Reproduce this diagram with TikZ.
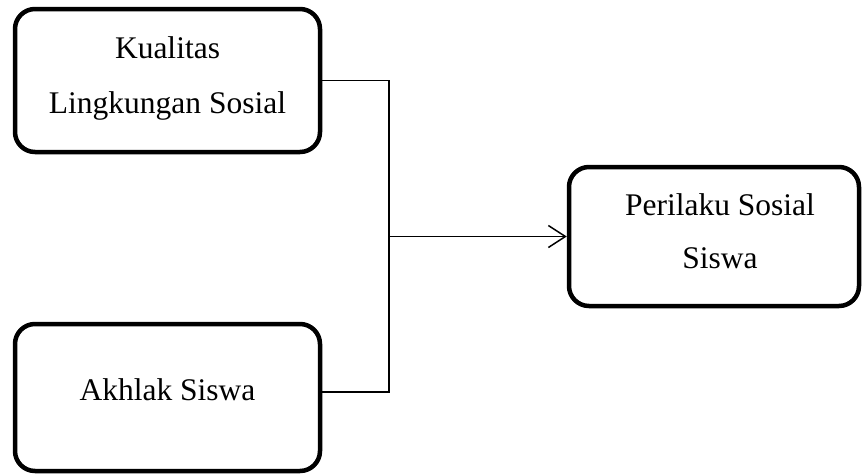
\documentclass[tikz,border=0pt]{standalone}
\usepackage{fontspec}
\setmainfont{Liberation Serif}
\usetikzlibrary{arrows.meta}
\begin{document}
\begin{tikzpicture}[x=1pt,y=-1pt,
  box/.style={draw=black,line width=4.5pt,rounded corners=20pt,inner sep=0pt},
  lbl/.style={anchor=base,inner sep=0pt,font=\fontsize{31.5}{55}\selectfont},
  conn/.style={draw=black,line width=1.5pt},
  arr/.style={conn,-{Straight Barb[length=17pt,width=22pt]}}]
\useasboundingbox (0,0) rectangle (862,475);
\node[box,minimum width=305pt,minimum height=143pt] (box1) at (167.5,80.5) {};
\node[box,minimum width=305pt,minimum height=147pt] (box2) at (167.5,397.5) {};
\node[box,minimum width=290pt,minimum height=139pt] (box3) at (714,236.5) {};
\node[lbl] (t1a) at (167.5,58) {Kualitas};
\node[lbl] (t1b) at (167.5,113) {Lingkungan Sosial};
\node[lbl] (t2) at (167.5,400) {Akhlak Siswa};
\node[lbl] (t3a) at (720,215.5) {Perilaku Sosial};
\node[lbl] (t3b) at (720,268.5) {Siswa};
\coordinate (j) at (389,236.5);
\draw[conn] (box1.east) -| (j);
\draw[conn] ([yshift=5.5pt]box2.east) -| (j);
\draw[arr] (j) -- (box3.west);
\end{tikzpicture}
\end{document}
